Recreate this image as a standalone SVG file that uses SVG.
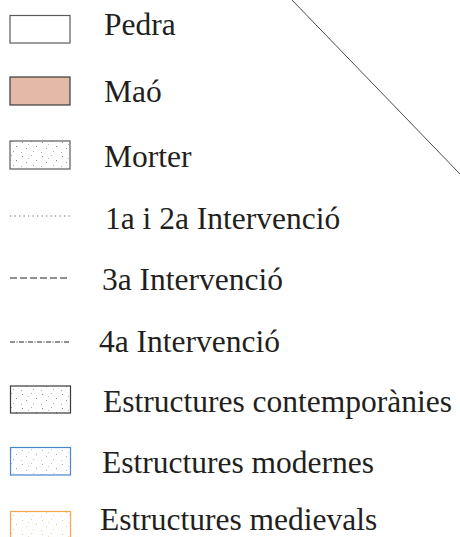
<svg xmlns="http://www.w3.org/2000/svg" width="460" height="537" viewBox="0 0 460 537">
<style>
.lbl{font-family:'Liberation Serif','Times New Roman',serif;font-size:31.5px;fill:#231f20}
.box{stroke-width:1.2}
</style>
<defs>
<pattern id="dotsGray" patternUnits="userSpaceOnUse" width="20" height="14">
<rect width="20" height="14" fill="#fff"/>
<rect x="2" y="2" width="1" height="1" fill="#8a8a8a"/>
<rect x="11" y="1" width="1" height="1" fill="#aaa"/>
<rect x="16" y="6" width="1" height="1" fill="#888"/>
<rect x="6" y="8" width="1" height="1" fill="#999"/>
<rect x="13" y="11" width="1" height="1" fill="#aaa"/>
<rect x="1" y="12" width="1" height="1" fill="#b0b0b0"/>
<rect x="8" y="4" width="1" height="1" fill="#bbb"/>
</pattern>
<pattern id="dotsBlue" patternUnits="userSpaceOnUse" width="20" height="14">
<rect width="20" height="14" fill="#fff"/>
<rect x="2" y="2" width="1" height="1" fill="#9ab3d8"/>
<rect x="11" y="1" width="1" height="1" fill="#b3c6e3"/>
<rect x="16" y="6" width="1" height="1" fill="#93acd4"/>
<rect x="6" y="8" width="1" height="1" fill="#a4badc"/>
<rect x="13" y="11" width="1" height="1" fill="#b3c6e3"/>
<rect x="1" y="12" width="1" height="1" fill="#bccde6"/>
<rect x="8" y="4" width="1" height="1" fill="#c2d2e8"/>
</pattern>
<pattern id="dotsOrange" patternUnits="userSpaceOnUse" width="20" height="14">
<rect width="20" height="14" fill="#fff"/>
<rect x="2" y="2" width="1" height="1" fill="#f3c089"/>
<rect x="11" y="1" width="1" height="1" fill="#f6cfa3"/>
<rect x="16" y="6" width="1" height="1" fill="#f2bb80"/>
<rect x="6" y="8" width="1" height="1" fill="#f4c592"/>
<rect x="13" y="11" width="1" height="1" fill="#f6cfa3"/>
<rect x="1" y="12" width="1" height="1" fill="#f7d5ae"/>
<rect x="8" y="4" width="1" height="1" fill="#f8dab6"/>
</pattern>
</defs>
<g id="connectors">
<line x1="292" y1="0" x2="460" y2="174" stroke="#4a4a4a" stroke-width="1"/>
</g>
<g id="pedra">
<rect class="box" x="10" y="15.5" width="60" height="27.5" fill="#fff" stroke="#5a5a5a"/>
<text class="lbl" x="104" y="35">Pedra</text>
</g>
<g id="mao">
<rect class="box" x="10" y="77" width="60" height="28" fill="#e3b9a8" stroke="#3a3a3a"/>
<text class="lbl" x="104" y="102">Maó</text>
</g>
<g id="morter">
<rect class="box" x="10" y="141" width="60" height="28" fill="url(#dotsGray)" stroke="#5a5a5a"/>
<text class="lbl" x="104" y="167">Morter</text>
</g>
<g id="intervencio12">
<line x1="10" y1="216" x2="70" y2="216" stroke="#666" stroke-width="1.2" stroke-dasharray="1.2 3.3"/>
<text class="lbl" x="105" y="229">1a i 2a Intervenció</text>
</g>
<g id="intervencio3">
<line x1="10" y1="278" x2="70" y2="278" stroke="#222" stroke-width="1.1" stroke-dasharray="7 3"/>
<text class="lbl" x="102" y="290">3a Intervenció</text>
</g>
<g id="intervencio4">
<line x1="10" y1="342" x2="70" y2="342" stroke="#222" stroke-width="1.1" stroke-dasharray="5 1.5 1 1.5"/>
<text class="lbl" x="99" y="352">4a Intervenció</text>
</g>
<g id="contemporanies">
<rect class="box" x="10.5" y="386" width="60" height="27" fill="url(#dotsGray)" stroke="#3a3a3a" stroke-width="1.5"/>
<text class="lbl" x="103" y="412">Estructures contemporànies</text>
</g>
<g id="modernes">
<rect class="box" x="10.5" y="447.5" width="60" height="27.5" fill="url(#dotsBlue)" stroke="#4a86c8" stroke-width="1.5"/>
<text class="lbl" x="102" y="473">Estructures modernes</text>
</g>
<g id="medievals">
<rect class="box" x="10.5" y="511.5" width="60" height="28" fill="url(#dotsOrange)" stroke="#f5a54a" stroke-width="1.5"/>
<text class="lbl" x="100" y="530">Estructures medievals</text>
</g>
</svg>
